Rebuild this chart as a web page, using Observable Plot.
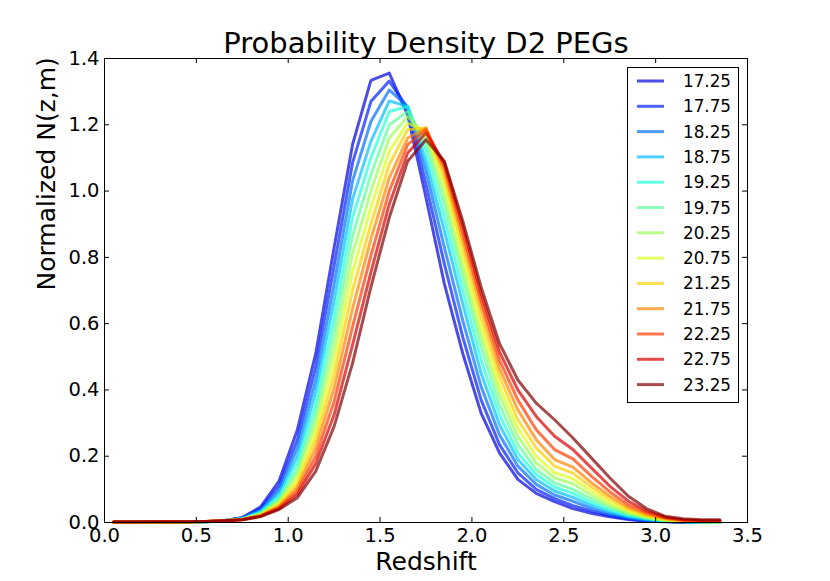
<!DOCTYPE html>
<html><head><meta charset="utf-8">
<script src="https://cdn.jsdelivr.net/npm/d3@7"></script>
<script src="https://cdn.jsdelivr.net/npm/@observablehq/plot@0.6"></script>
<style>
body{margin:0;background:#fff;}
#wrap{position:relative;width:830px;height:581px;font-family:"DejaVu Sans",sans-serif;}
#legend{position:absolute;left:627px;top:67px;}
</style></head><body><div id="wrap"></div>
<script>
const title = "Probability Density D2 PEGs";
const xLabel = "Redshift";
const yLabel = "Normalized N(z,m)";
const magnitudes = ["17.25","17.75","18.25","18.75","19.25","19.75","20.25","20.75","21.25","21.75","22.25","22.75","23.25"];
const xTicks = [0.0,0.5,1.0,1.5,2.0,2.5,3.0,3.5];
const yTicks = [0.0,0.2,0.4,0.6,0.8,1.0,1.2,1.4];
const redshift = [0.05,0.15,0.25,0.35,0.45,0.55,0.65,0.75,0.85,0.95,1.05,1.15,1.25,1.35,1.45,1.55,1.65,1.75,1.85,1.95,2.05,2.15,2.25,2.35,2.45,2.55,2.65,2.75,2.85,2.95,3.05,3.15,3.25,3.35];

const s1725 = [0,0,0,0,0.001,0.002,0.005,0.015,0.047,0.125,0.28,0.51,0.83,1.14,1.334,1.356,1.23,0.98,0.72,0.51,0.33,0.21,0.13,0.088,0.063,0.042,0.028,0.017,0.009,0.004,0.002,0.001,0,0];
const s1775 = [0,0,0,0,0.001,0.002,0.005,0.014,0.042,0.11,0.25,0.47,0.775,1.085,1.27,1.332,1.25,1.02,0.78,0.56,0.37,0.235,0.15,0.1,0.072,0.051,0.035,0.021,0.011,0.005,0.003,0.001,0.001,0];
const s1825 = [0,0,0,0.001,0.001,0.002,0.005,0.013,0.037,0.097,0.225,0.43,0.72,1.03,1.21,1.305,1.255,1.06,0.83,0.61,0.41,0.265,0.17,0.115,0.083,0.064,0.043,0.026,0.014,0.007,0.003,0.002,0.001,0.001];
const s1875 = [0,0,0,0.001,0.001,0.002,0.005,0.012,0.034,0.087,0.2,0.395,0.67,0.975,1.15,1.272,1.255,1.09,0.88,0.66,0.45,0.295,0.19,0.13,0.095,0.076,0.052,0.032,0.017,0.009,0.004,0.002,0.001,0.001];
const s1925 = [0,0,0.001,0.001,0.001,0.002,0.005,0.011,0.031,0.078,0.18,0.36,0.62,0.92,1.1,1.24,1.255,1.12,0.92,0.7,0.49,0.325,0.21,0.145,0.107,0.088,0.061,0.038,0.021,0.011,0.005,0.002,0.001,0.001];
const s1975 = [0,0,0.001,0.001,0.001,0.002,0.005,0.011,0.028,0.07,0.16,0.33,0.575,0.865,1.05,1.2,1.24,1.145,0.96,0.74,0.53,0.355,0.235,0.16,0.12,0.1,0.071,0.045,0.025,0.013,0.006,0.003,0.002,0.001];
const s2025 = [0.001,0.001,0.001,0.001,0.001,0.002,0.005,0.01,0.026,0.064,0.145,0.3,0.53,0.81,1.0,1.16,1.225,1.165,0.99,0.77,0.56,0.385,0.26,0.18,0.135,0.117,0.082,0.052,0.029,0.015,0.007,0.003,0.002,0.002];
const s2075 = [0.001,0.001,0.001,0.001,0.002,0.003,0.005,0.01,0.024,0.058,0.13,0.275,0.485,0.755,0.95,1.12,1.205,1.18,1.02,0.8,0.59,0.41,0.285,0.2,0.15,0.132,0.094,0.06,0.034,0.018,0.008,0.004,0.002,0.002];
const s2125 = [0.001,0.001,0.001,0.001,0.002,0.003,0.005,0.009,0.022,0.053,0.117,0.25,0.445,0.7,0.9,1.08,1.185,1.19,1.04,0.83,0.62,0.44,0.31,0.225,0.17,0.149,0.107,0.07,0.04,0.021,0.01,0.005,0.003,0.003];
const s2175 = [0.001,0.001,0.001,0.002,0.002,0.003,0.005,0.009,0.021,0.049,0.105,0.225,0.405,0.645,0.855,1.04,1.16,1.19,1.06,0.855,0.65,0.465,0.34,0.25,0.19,0.167,0.12,0.08,0.046,0.025,0.012,0.006,0.004,0.003];
const s2225 = [0.001,0.001,0.002,0.002,0.002,0.003,0.005,0.009,0.02,0.045,0.095,0.2,0.365,0.59,0.805,1.0,1.14,1.185,1.075,0.875,0.67,0.49,0.37,0.28,0.22,0.192,0.14,0.093,0.054,0.03,0.014,0.007,0.005,0.004];
const s2275 = [0.002,0.002,0.002,0.002,0.002,0.003,0.005,0.008,0.019,0.042,0.085,0.178,0.325,0.535,0.755,0.96,1.115,1.175,1.085,0.895,0.69,0.515,0.4,0.32,0.26,0.22,0.165,0.11,0.065,0.035,0.016,0.008,0.006,0.006];
const s2325 = [0.002,0.002,0.002,0.002,0.002,0.003,0.005,0.008,0.018,0.039,0.075,0.155,0.29,0.48,0.71,0.92,1.09,1.155,1.09,0.91,0.71,0.54,0.43,0.36,0.31,0.255,0.195,0.135,0.08,0.042,0.019,0.011,0.008,0.008];

const series = [s1725,s1775,s1825,s1875,s1925,s1975,s2025,s2075,s2125,s2175,s2225,s2275,s2325];
const data = series.flatMap((vals, i) => vals.map((v, j) => ({z: redshift[j], v, m: magnitudes[i]})));

// matplotlib "jet" colormap
function jet(t) {
  const interp = (pts) => {
    for (let k = 1; k < pts.length; k++) {
      if (t <= pts[k][0]) {
        const [x0, y0] = pts[k-1], [x1, y1] = pts[k];
        return y0 + (y1 - y0) * (t - x0) / (x1 - x0);
      }
    }
    return pts[pts.length-1][1];
  };
  const r = interp([[0,0],[0.35,0],[0.66,1],[0.89,1],[1,0.5]]);
  const g = interp([[0,0],[0.125,0],[0.375,1],[0.64,1],[0.91,0],[1,0]]);
  const b = interp([[0,0.5],[0.11,1],[0.34,1],[0.65,0],[1,0]]);
  return d3.rgb(r*255, g*255, b*255).formatHex();
}
const colors = magnitudes.map((m, i) => jet(0.08 + i * 0.92 / 12));

const W = 830, H = 581, mL = 104, mR = 83, mT = 58, mB = 59;
const innerW = W - mL - mR, innerH = H - mT - mB;

const chart = Plot.plot({
  width: W, height: H,
  marginLeft: mL, marginRight: mR, marginTop: mT, marginBottom: mB,
  style: {fontFamily: "DejaVu Sans", fontSize: "19.5px", background: "white", color: "black"},
  x: {domain: [0, 3.5]},
  y: {domain: [0, 1.4]},
  color: {domain: magnitudes, range: colors},
  marks: [
    Plot.line(data, {x: "z", y: "v", z: "m", stroke: "m", strokeWidth: 3, strokeOpacity: 0.7}),
    Plot.tickX(xTicks, {x: d => d, insetTop: innerH - 5, stroke: "black"}),
    Plot.tickX(xTicks, {x: d => d, insetBottom: innerH - 5, stroke: "black"}),
    Plot.tickY(yTicks, {y: d => d, insetRight: innerW - 5, stroke: "black"}),
    Plot.tickY(yTicks, {y: d => d, insetLeft: innerW - 5, stroke: "black"}),
    Plot.axisX({ticks: xTicks, tickSize: 0, tickPadding: 6, tickFormat: d => d.toFixed(1), label: null}),
    Plot.axisY({ticks: yTicks, tickSize: 0, tickPadding: 5, tickFormat: d => d.toFixed(1), label: null}),
    Plot.frame({stroke: "black"}),
    Plot.text([title], {frameAnchor: "top", lineAnchor: "bottom", dy: -6, fontSize: 29, fill: "black"}),
    Plot.text([xLabel], {frameAnchor: "bottom", lineAnchor: "bottom", dy: 47, fontSize: 25, fill: "black"}),
    Plot.text([yLabel], {frameAnchor: "left", lineAnchor: "bottom", rotate: -90, dx: -50, fontSize: 25, fill: "black"})
  ]
});

const wrap = document.getElementById("wrap");
wrap.appendChild(chart);

// legend
const lw = 111, lh = 335;
const leg = d3.create("svg").attr("id", "legend").attr("width", lw + 1).attr("height", lh + 1);
leg.append("rect").attr("x", 0.5).attr("y", 0.5).attr("width", lw).attr("height", lh)
  .attr("fill", "white").attr("stroke", "black").attr("stroke-width", 1);
magnitudes.forEach((m, i) => {
  const y = 14 + i * 25.3;
  leg.append("line").attr("x1", 10).attr("x2", 37).attr("y1", y).attr("y2", y)
    .attr("stroke", colors[i]).attr("stroke-width", 3).attr("stroke-opacity", 0.7);
  leg.append("text").attr("x", 56).attr("y", y).attr("dy", "0.36em")
    .attr("font-family", "DejaVu Sans").attr("font-size", "16.8px").attr("fill", "black").text(m);
});
wrap.appendChild(leg.node());
</script>
</body></html>
